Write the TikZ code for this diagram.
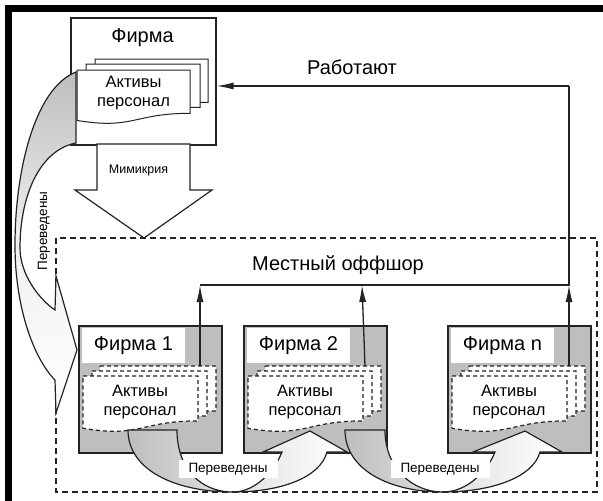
\documentclass[tikz,border=0pt]{standalone}
\usepackage{fontspec}
\setmainfont{Liberation Sans}
\usetikzlibrary{arrows.meta}

\definecolor{ink}{RGB}{35,35,35}
\definecolor{boxgray}{RGB}{190,190,190}

\newcommand\bigfont{\fontsize{20}{23}\selectfont}
\newcommand\docfont{\fontsize{16.5}{19}\selectfont}
\newcommand\tagfont{\fontsize{13.5}{16}\selectfont}
\newcommand\mimfont{\fontsize{12.5}{15}\selectfont}

% sheet with a wavy lower edge: style, x, y, width, height
\newcommand\sheet[5]{%
  \path[#1] (#2,#3) -- ({#2+#4},#3) -- ({#2+#4},{#3+0.802*#5})
    .. controls ({#2+#4/2},{#3+0.802*#5}) and ({#2+#4/2},{#3+1.107*#5}) ..
    (#2,{#3+0.934*#5}) -- cycle;}

\tikzset{
  firmbox/.style={draw=ink, line width=1.5pt, fill=boxgray, minimum width=143pt,
    minimum height=127pt, anchor=north west, inner sep=0pt},
  headbox/.style={draw=ink, line width=1.5pt, fill=white, minimum width=145pt,
    minimum height=127pt, anchor=north west, inner sep=0pt},
  namebox/.style={fill=white, minimum width=103pt, minimum height=35pt,
    inner sep=0pt, font=\bigfont},
  solidsheet/.style={draw=ink, line width=1pt, fill=white},
  dashsheet/.style={draw=ink, line width=1.2pt, fill=white, dash pattern=on 4pt off 3pt},
  doctext/.style={align=center, font=\docfont, inner sep=0pt},
  flow/.style={draw=ink, line width=1.3pt, -{Latex[length=17pt,width=7pt]}},
  linkline/.style={draw=ink, line width=1.3pt},
  tag/.style={fill=white, font=\tagfont, inner xsep=10pt, inner ysep=3pt},
  bandedge/.style={draw=ink, line width=1.2pt},
  zone/.style={draw=ink, line width=1.2pt, dash pattern=on 6pt off 4pt},
}

\begin{document}
\begin{tikzpicture}[x=1pt,y=-1pt]
\useasboundingbox (0,0) rectangle (603,501);

% heavy frame corner
\draw[line width=7pt, line join=miter] (8.5,501) -- (8.5,8.5) -- (603,8.5);

% local offshore zone
\draw[zone] (56,238) rectangle (597,492);

% parent firm
\node[headbox] (firm) at (70,17) {};
\node[font=\bigfont] (firmname) at (142.5,38) {Фирма};
\sheet{solidsheet}{95}{59}{113}{54}
\sheet{solidsheet}{86}{64}{114}{54}
\sheet{solidsheet}{77}{70}{113}{54}
\node[doctext] (firmdoc) at (133.5,93) {Активы\\персонал};

% mimicry block arrow
\path[draw=ink, line width=1.2pt, fill=white]
  (97,144) -- (97,190) -- (75,190) -- (144,238) -- (212,190) -- (190,190) -- (190,144) -- cycle;
\node[font=\mimfont] (mimic) at (138.5,170) {Мимикрия};

% branch firms
\foreach \L/\nm/\id in {78/Фирма 1/f1, 243/Фирма 2/f2, 447/Фирма n/fn}{
  \node[firmbox] (\id) at (\L,325) {};
  \node[namebox] (\id name) at ({\L+55.5},345.5) {\nm};
  \sheet{dashsheet}{\L+22}{366}{116}{56}
  \sheet{dashsheet}{\L+14}{371}{115}{56}
  \sheet{dashsheet}{\L+5}{376}{115}{56}
  \node[doctext] (\id doc) at ({\L+62},402) {Активы\\персонал};
  \coordinate (\id src) at ({\L+122},366);
}

% staff moved from the parent firm
\path[bandedge, top color=boxgray, bottom color=white, middle color=gray!12]
  (76,72) .. controls (35,88) and (15,170) .. (15,245)
  .. controls (15,310) and (35,360) .. (55,380)
  -- (56,413) -- (77,350) -- (56,276) -- (55,310)
  .. controls (40,300) and (20,275) .. (20,248)
  .. controls (20,195) and (40,150) .. (76,143) -- cycle;
\node[rotate=90, font=\tagfont] (movedA) at (44,231) {Переведены};

% staff moved between branch firms
\path[bandedge, left color=boxgray, right color=white, middle color=gray!22]
  (128,430) -- (177,430)
  .. controls (177,468) and (200,492) .. (233,492)
  .. controls (256,492) and (275,470) .. (282,452)
  -- (263,452) -- (310,431) -- (347,452) -- (327,452)
  .. controls (320,478) and (280,492) .. (233,492)
  .. controls (175,492) and (128,470) .. (128,430) -- cycle;
\path[bandedge, left color=boxgray, right color=white, middle color=gray!22]
  (345,430) -- (385,430)
  .. controls (385,468) and (412,492) .. (443,492)
  .. controls (468,492) and (488,470) .. (495,452)
  -- (473,452) -- (525,431) -- (562,452) -- (540,452)
  .. controls (533,478) and (490,492) .. (443,492)
  .. controls (390,492) and (345,470) .. (345,430) -- cycle;
\node[tag] (movedB) at (228,469) {Переведены};
\node[tag] (movedC) at (440,469) {Переведены};

% work flows back to the parent firm
\node[font=\bigfont] (zonename) at (338,265) {Местный оффшор};
\node[font=\bigfont] (works) at (352,67) {Работают};
\coordinate (j1) at (200,285);
\coordinate (j2) at (362,285);
\coordinate (j3) at (569,285);
\coordinate (up) at (569,86);
\draw[flow] (f1src) -- (j1);
\draw[flow] (f2src) -- (j2);
\draw[flow] (fnsrc) -- (j3);
\draw[linkline] (j1) -- (j3) -- (up);
\draw[flow] (up) -- (firm.east |- up);
\end{tikzpicture}
\end{document}
